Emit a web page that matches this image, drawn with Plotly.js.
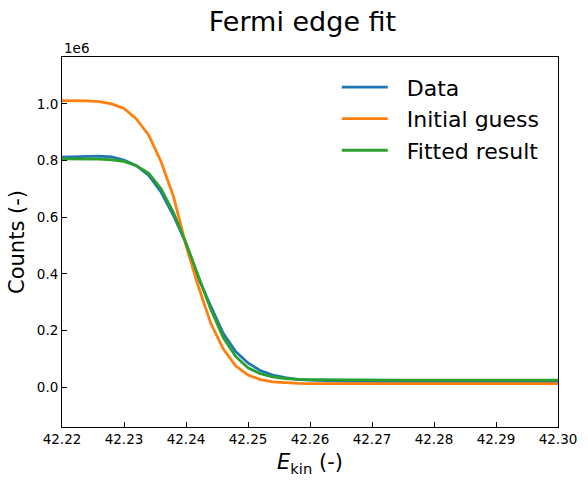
<!DOCTYPE html>
<html>
<head>
<meta charset="utf-8">
<script src="https://cdn.plot.ly/plotly-3.0.1.min.js"></script>
<style>html,body{margin:0;padding:0;background:#fff;}#chart{width:588px;height:485px;}</style>
</head>
<body>
<div id="chart"></div>
<script>
// Kinetic energy grid (-)
const energy = [42.220,42.222,42.224,42.226,42.228,42.230,42.232,42.234,42.236,42.238,
  42.240,42.242,42.244,42.246,42.248,42.250,42.252,42.254,42.256,42.258,
  42.260,42.262,42.264,42.266,42.268,42.270,42.272,42.274,42.276,42.278,
  42.280,42.282,42.284,42.286,42.288,42.290,42.292,42.294,42.296,42.298,42.300];

// Counts in units of 1e6
const dataCounts = [0.812,0.814,0.815,0.816,0.813,0.802,0.782,0.748,0.688,0.605,
  0.508,0.385,0.285,0.190,0.125,0.085,0.058,0.042,0.033,0.027,
  0.024,0.022,0.021,0.020,0.020,0.019,0.019,0.018,0.019,0.018,
  0.018,0.019,0.018,0.018,0.018,0.018,0.018,0.018,0.018,0.018,0.018];

const initialGuess = [1.012,1.012,1.011,1.008,1.000,0.984,0.947,0.890,0.795,0.672,
  0.500,0.355,0.225,0.135,0.075,0.042,0.026,0.018,0.015,0.013,
  0.012,0.012,0.012,0.012,0.012,0.012,0.012,0.012,0.012,0.012,
  0.012,0.012,0.012,0.012,0.012,0.012,0.012,0.012,0.012,0.012,0.012];

const fittedResult = [0.806,0.806,0.806,0.805,0.803,0.797,0.782,0.755,0.700,0.615,
  0.508,0.390,0.275,0.175,0.108,0.068,0.047,0.036,0.030,0.027,
  0.026,0.025,0.025,0.025,0.025,0.024,0.024,0.024,0.024,0.024,
  0.024,0.024,0.024,0.024,0.024,0.024,0.024,0.024,0.024,0.024,0.024];

const seriesNames = ["Data", "Initial guess", "Fitted result"];
const xTickVals = [42.22,42.23,42.24,42.25,42.26,42.27,42.28,42.29,42.30];
const xTickText = ["42.22","42.23","42.24","42.25","42.26","42.27","42.28","42.29","42.30"];
const yTickVals = [0.0,0.2,0.4,0.6,0.8,1.0];
const yTickText = ["0.0","0.2","0.4","0.6","0.8","1.0"];

const font = "DejaVu Sans, sans-serif";
const colors = ["#1f77b4", "#ff7f0e", "#2ca02c"];
const ys = [dataCounts, initialGuess, fittedResult];

const traces = ys.map((y, i) => ({
  x: energy, y: y, type: "scatter", mode: "lines",
  name: "&nbsp;&nbsp;" + seriesNames[i],
  line: {color: colors[i], width: 2.8}
}));

const axisCommon = {
  showline: true, linecolor: "black", linewidth: 1, mirror: true,
  ticks: "inside", ticklen: 5, tickwidth: 1, tickcolor: "black",
  showgrid: false, zeroline: false,
  tickfont: {family: font, size: 13.5, color: "black"}
};

const layout = {
  width: 588, height: 485,
  margin: {l: 62, r: 30, t: 57, b: 58},
  paper_bgcolor: "white", plot_bgcolor: "white",
  title: {text: "Fermi edge fit", font: {family: font, size: 27, color: "black"},
    x: 302.5 / 588, xref: "container", xanchor: "center", y: 0.955, yanchor: "middle"},
  xaxis: Object.assign({}, axisCommon, {
    range: [42.22, 42.30], tickvals: xTickVals, ticktext: xTickText,
    title: {text: "<i>E</i><sub>kin</sub> (-)", font: {family: font, size: 21, color: "black"}, standoff: 8}
  }),
  yaxis: Object.assign({}, axisCommon, {
    range: [-0.1413, 1.166], tickvals: yTickVals, ticktext: yTickText,
    title: {text: "Counts (-)", font: {family: font, size: 21, color: "black"}, standoff: 6}
  }),
  showlegend: true,
  legend: {
    x: 0.554, xanchor: "left", y: 0.975, yanchor: "top",
    font: {family: font, size: 22, color: "black"},
    bgcolor: "rgba(255,255,255,0)", borderwidth: 0, itemwidth: 46,
    tracegroupgap: 0
  },
  annotations: [{
    text: "1e6", xref: "paper", yref: "paper", x: 0, y: 1,
    xanchor: "left", yanchor: "bottom", yshift: -1, showarrow: false,
    font: {family: font, size: 13.5, color: "black"}
  }]
};

Plotly.newPlot("chart", traces, layout, {staticPlot: true, displayModeBar: false});
</script>
</body>
</html>
